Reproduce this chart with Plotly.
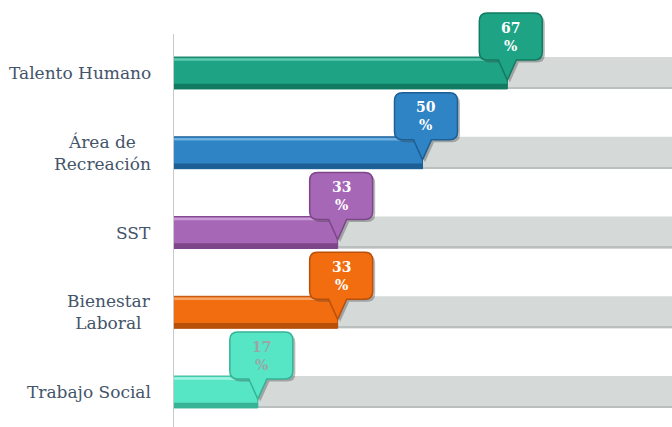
import plotly.graph_objects as go

categories = ["Talento Humano", "Área de<br>Recreación", "SST", "Bienestar<br>Laboral", "Trabajo Social"]
values = [67, 50, 33, 33, 17]
value_labels = ["67<br>%", "50<br>%", "33<br>%", "33<br>%", "17<br>%"]
colors = ["#1ea385", "#2e84c4", "#a667b6", "#f26d0f", "#56e6c6"]
dark_colors = ["#137a62", "#1d5f94", "#7c4689", "#b9500a", "#36b295"]
light_colors = ["#5fc9b0", "#6fb0e0", "#c99ad5", "#f8a264", "#a3f5e2"]
label_text_colors = ["#ffffff", "#ffffff", "#ffffff", "#ffffff", "#9aa5a5"]
total = 100

n = len(categories)
ypos = list(range(n))

W, H = 672, 427
ml, mr, mt, mb = 173, 0, 0, 0
plot_w = W - ml - mr
plot_h = H - mt - mb
px_per_y = 79.75
first_center = 73
y_top = -first_center / px_per_y
y_bot = y_top + plot_h / px_per_y
axis_top = (34 - 73) / px_per_y
px_per_x = plot_w / total

bar_w = 0.40

fig = go.Figure()

# gray background bars
fig.add_trace(go.Bar(y=ypos, x=[total] * n, orientation="h", width=bar_w,
                     marker=dict(color="#d5dad9", line=dict(width=0)),
                     hoverinfo="skip", showlegend=False))
fig.add_trace(go.Bar(y=ypos, x=[total] * n, orientation="h", width=0.02, offset=bar_w / 2 - 0.02,
                     marker=dict(color="#b9c0bf", line=dict(width=0)),
                     hoverinfo="skip", showlegend=False))
# main bars
fig.add_trace(go.Bar(y=ypos, x=values, orientation="h", width=bar_w,
                     marker=dict(color=colors, line=dict(color=dark_colors, width=1)),
                     hoverinfo="skip", showlegend=False))
# bevel: dark bottom band, light top line
fig.add_trace(go.Bar(y=ypos, x=values, orientation="h", width=0.065, offset=bar_w / 2 - 0.065,
                     marker=dict(color=dark_colors, line=dict(width=0)),
                     hoverinfo="skip", showlegend=False))
fig.add_trace(go.Bar(y=ypos, x=values, orientation="h", width=0.03, offset=-bar_w / 2 + 0.015,
                     marker=dict(color=light_colors, line=dict(width=0)),
                     hoverinfo="skip", showlegend=False))

shapes = [dict(type="line", xref="x", yref="y", x0=0, x1=0, y0=axis_top, y1=y_bot,
               line=dict(color="#c9c9c9", width=2), layer="above")]
annotations = []

# callouts
box_w = 63 / px_per_x
box_h = 47 / px_per_y
rx = 8 / px_per_x
ry = 8 / px_per_y
tri_half = 9 / px_per_x


def callout_path(xc, xtip, ybot, ytop, ytip):
    x0, x1 = xc - box_w / 2, xc + box_w / 2
    p = [f"M{x0 + rx},{ytop}", f"L{x1 - rx},{ytop}", f"Q{x1},{ytop} {x1},{ytop + ry}",
         f"L{x1},{ybot - ry}", f"Q{x1},{ybot} {x1 - rx},{ybot}",
         f"L{xtip + tri_half},{ybot}", f"L{xtip},{ytip}", f"L{xtip - tri_half},{ybot}",
         f"L{x0 + rx},{ybot}", f"Q{x0},{ybot} {x0},{ybot - ry}",
         f"L{x0},{ytop + ry}", f"Q{x0},{ytop} {x0 + rx},{ytop}", "Z"]
    return " ".join(p)


for i, v in enumerate(values):
    y = ypos[i]
    xc = v + 3.5 / px_per_x
    ybot = y - bar_w / 2 + 3 / px_per_y
    ytop = ybot - box_h
    ytip = y - bar_w / 2 + 23 / px_per_y
    sx = 2.5 / px_per_x
    sy = 2.5 / px_per_y
    shapes.append(dict(type="path", xref="x", yref="y",
                       path=callout_path(xc + sx, v + sx, ybot + sy, ytop + sy, ytip + sy),
                       fillcolor="rgba(60,60,60,0.35)", line=dict(width=0), layer="above"))
    shapes.append(dict(type="path", xref="x", yref="y",
                       path=callout_path(xc, v, ybot, ytop, ytip),
                       fillcolor=colors[i], line=dict(color=dark_colors[i], width=1.5), layer="above"))
    annotations.append(dict(x=xc, y=(ybot + ytop) / 2, xref="x", yref="y", text=f"<b>{value_labels[i]}</b>",
                            showarrow=False, xanchor="center", yanchor="middle", align="center",
                            font=dict(family="DejaVu Serif", size=14, color=label_text_colors[i])))
    annotations.append(dict(x=-20 / plot_w, y=y, xref="paper", yref="y", text=categories[i],
                            showarrow=False, xanchor="right", yanchor="middle", align="center",
                            font=dict(family="DejaVu Serif", size=17, color="#44546a")))

fig.update_layout(
    width=W, height=H,
    margin=dict(l=ml, r=mr, t=mt, b=mb, pad=0),
    paper_bgcolor="white", plot_bgcolor="white",
    barmode="overlay",
    xaxis=dict(range=[0, total], showgrid=False, zeroline=False, showticklabels=False,
               showline=False, fixedrange=True),
    yaxis=dict(range=[y_bot, y_top], showgrid=False, zeroline=False, showticklabels=False,
               showline=False, fixedrange=True),
    shapes=shapes, annotations=annotations,
)

fig.write_html("out.html", config={"displayModeBar": False},
               post_script="document.body.style.margin='0';document.body.style.overflow='hidden';")
